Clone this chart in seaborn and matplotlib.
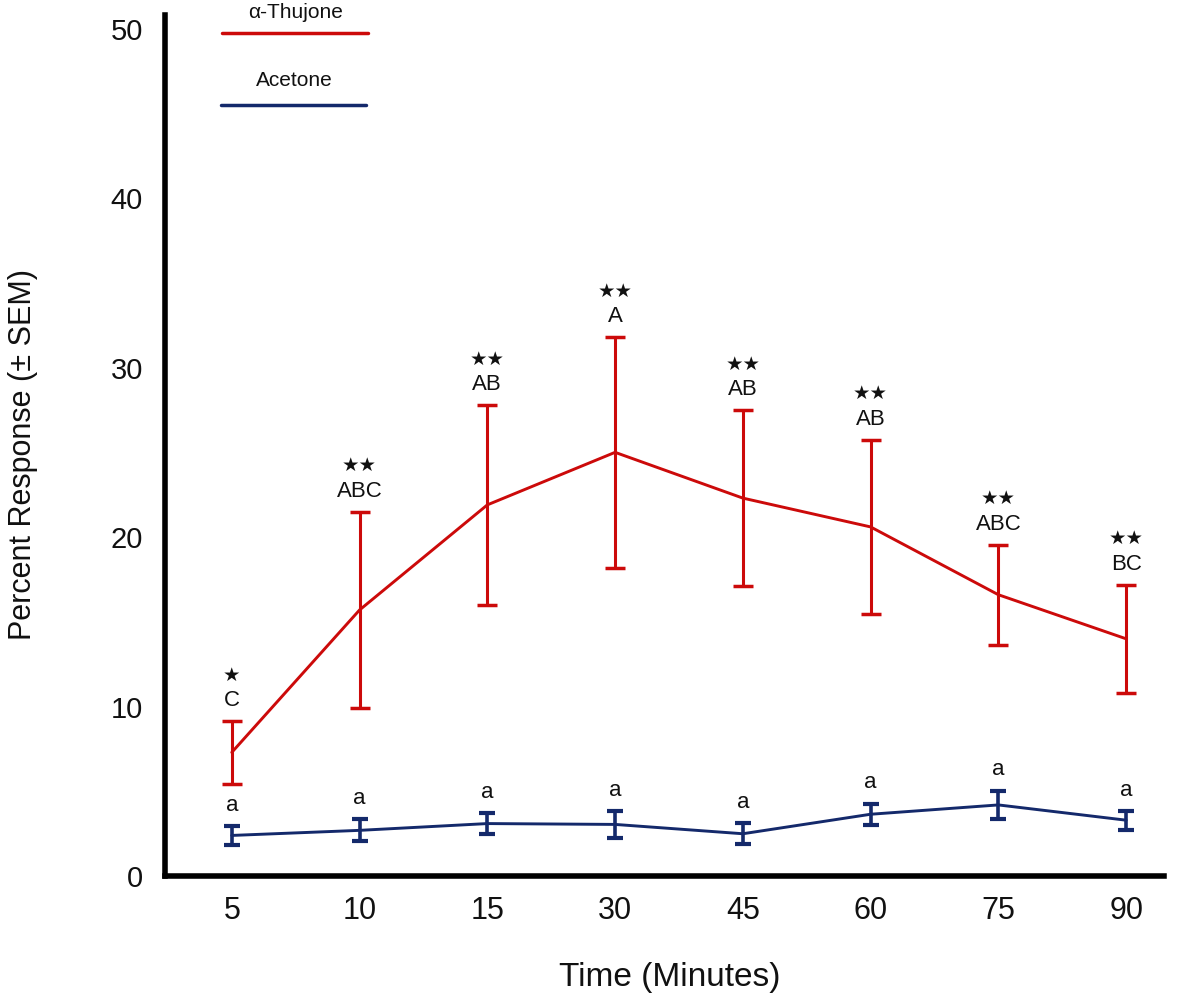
import numpy as np
import pandas as pd
import matplotlib
matplotlib.use("Agg")
import matplotlib.pyplot as plt
import seaborn as sns
from matplotlib.lines import Line2D

# ---- data ----
times = ["5", "10", "15", "30", "45", "60", "75", "90"]
thujone_mean = [7.3, 15.7, 21.9, 25.0, 22.3, 20.6, 16.6, 14.0]
thujone_sem = [1.85, 5.8, 5.9, 6.8, 5.2, 5.15, 2.95, 3.2]
acetone_mean = [2.4, 2.7, 3.1, 3.05, 2.5, 3.65, 4.2, 3.3]
acetone_sem = [0.55, 0.65, 0.62, 0.8, 0.62, 0.62, 0.85, 0.55]
thujone_stars = ["★", "★★", "★★", "★★", "★★", "★★", "★★", "★★"]
thujone_letters = ["C", "ABC", "AB", "A", "AB", "AB", "ABC", "BC"]
acetone_letters = ["a", "a", "a", "a", "a", "a", "a", "a"]

red = "#cc0a0a"
navy = "#14296b"
ink = "#111111"

sns.set_theme(style="white")
plt.rcParams["font.family"] = ["Liberation Sans", "DejaVu Sans"]

fig = plt.figure(figsize=(11.81, 9.99), dpi=100)
ax = fig.add_axes([0.140, 0.123, 0.846, 0.862])

pos = np.arange(len(times))
df = pd.DataFrame({
    "pos": np.concatenate([pos, pos]),
    "value": thujone_mean + acetone_mean,
    "series": ["α-Thujone"] * len(times) + ["Acetone"] * len(times),
})
sns.lineplot(data=df, x="pos", y="value", hue="series",
             palette={"α-Thujone": red, "Acetone": navy},
             linewidth=2.1, legend=False, ax=ax)

ax.errorbar(pos, thujone_mean, yerr=thujone_sem, fmt="none", ecolor=red,
            elinewidth=2.2, capsize=7, capthick=2.5)
ax.errorbar(pos, acetone_mean, yerr=acetone_sem, fmt="none", ecolor=navy,
            elinewidth=2.6, capsize=5.5, capthick=3)

for i in range(len(times)):
    top = thujone_mean[i] + thujone_sem[i]
    ax.annotate(thujone_letters[i], (pos[i], top), xytext=(0, 10.5),
                textcoords="offset points", ha="center", va="baseline",
                fontsize=16, color=ink)
    ax.annotate(thujone_stars[i], (pos[i], top), xytext=(0, 33),
                textcoords="offset points", ha="center", va="center",
                fontsize=14, color=ink, family=["DejaVu Sans"])
    atop = acetone_mean[i] + acetone_sem[i]
    ax.annotate(acetone_letters[i], (pos[i], atop), xytext=(0, 11),
                textcoords="offset points", ha="center", va="baseline",
                fontsize=16, color=ink)

ax.set_xlim(-0.52, 7.3)
ax.set_ylim(0, 50.8)
ax.set_yticks([0, 10, 20, 30, 40, 50])
ax.set_xticks(pos)
ax.set_xticklabels(times)
ax.tick_params(axis="both", length=0, colors=ink)
ax.tick_params(axis="y", pad=16, labelsize=21)
ax.tick_params(axis="x", pad=14, labelsize=22)

for s in ["top", "right"]:
    ax.spines[s].set_visible(False)
for s in ["left", "bottom"]:
    ax.spines[s].set_linewidth(4)
    ax.spines[s].set_color("black")

ax.set_xlabel("Time (Minutes)", fontsize=24, color=ink)
ax.set_ylabel("Percent Response (± SEM)", fontsize=22, color=ink)
ax.xaxis.set_label_coords(0.505, -0.10)
ax.yaxis.set_label_coords(-0.127, 0.49)

# legend drawn in figure coordinates
fig.add_artist(Line2D([0.188, 0.3116], [0.967, 0.967], color=red, lw=2.5,
                      transform=fig.transFigure))
fig.add_artist(Line2D([0.187, 0.310], [0.895, 0.895], color=navy, lw=2.5,
                      transform=fig.transFigure))
fig.text(0.250, 0.987, "α-Thujone", ha="center", va="center", fontsize=15,
         color=ink)
fig.text(0.249, 0.919, "Acetone", ha="center", va="center", fontsize=15,
         color=ink)

fig.savefig("out.png", dpi=100)
